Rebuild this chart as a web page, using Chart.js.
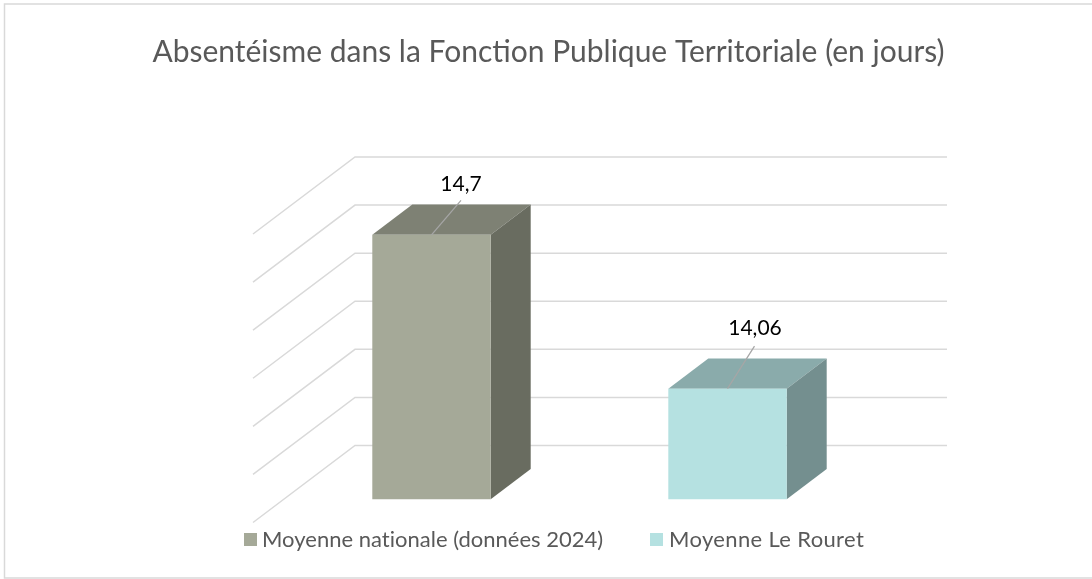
<!DOCTYPE html>
<html><head><meta charset="utf-8">
<style>html,body{margin:0;padding:0;background:#fff}canvas{display:block}</style>
<script src="https://cdn.jsdelivr.net/npm/chart.js@4"></script>
</head><body>
<canvas id="c" width="1092" height="579"></canvas>
<script>
const categories = ["Moyenne nationale (données 2024)", "Moyenne Le Rouret"];
const values = [14.7, 14.06];
const valueLabels = ["14,7", "14,06"];
const titleText = "Absentéisme dans la Fonction Publique Territoriale (en jours)";
const frontColors = ["#A5A998", "#B5E1E1"];
const topColors = ["#7E8174", "#8AABAB"];
const sideColors = ["#696C60", "#748F8F"];

const FONT = "Lato, 'Open Sans', sans-serif";
const WALL = {dx: 102, dy: -77};
const BAR_SHIFT = {dx: 30.5, dy: -23.2};
const BAR_DEPTH = {dx: 40, dy: -30.3};
const LEADER_TOP = [{dx: 29.5, dy: -34.5}, {dx: 27, dy: -42.5}];
const LABEL_POS = [{dx: 29.5, dy: -51}, {dx: 27.5, dy: -60}];
const LEGEND = {swatchX: [244, 650], textX: [262, 669], swatchY: 533, swatchSize: 13, baseline: 547, size: 22, spacing: ["0.01px", "0.35px"]};

const scene3d = {
  id: "scene3d",
  beforeDraw(chart) {
    const {ctx, width} = chart;
    ctx.save();
    ctx.strokeStyle = "#D9D9D9";
    ctx.lineWidth = 1.5;
    ctx.strokeRect(4.5, 4, width, 574);
    ctx.restore();
  },
  beforeDatasetsDraw(chart) {
    const {ctx, scales: {y}, chartArea: a} = chart;
    ctx.save();
    ctx.strokeStyle = "#D9D9D9";
    ctx.lineWidth = 1.5;
    y.ticks.forEach(t => {
      const py = y.getPixelForValue(t.value);
      ctx.beginPath();
      ctx.moveTo(a.left, py);
      ctx.lineTo(a.left + WALL.dx, py + WALL.dy);
      ctx.lineTo(a.right + WALL.dx, py + WALL.dy);
      ctx.stroke();
    });
    ctx.restore();
  },
  beforeDatasetDraw(chart, args) {
    const {ctx} = chart;
    const poly = (pts, color) => {
      ctx.fillStyle = color;
      ctx.beginPath();
      pts.forEach((p, i) => i ? ctx.lineTo(p[0], p[1]) : ctx.moveTo(p[0], p[1]));
      ctx.closePath();
      ctx.fill();
    };
    ctx.save();
    ctx.translate(BAR_SHIFT.dx, BAR_SHIFT.dy);
    args.meta.data.forEach((bar, i) => {
      const l = bar.x - bar.width / 2, r = bar.x + bar.width / 2, t = bar.y, b = bar.base;
      const d = BAR_DEPTH;
      poly([[l, t], [r, t], [r + d.dx, t + d.dy], [l + d.dx, t + d.dy]], topColors[i]);
      poly([[r, t], [r + d.dx, t + d.dy], [r + d.dx, b + d.dy], [r, b]], sideColors[i]);
    });
  },
  afterDatasetDraw(chart, args) {
    const {ctx} = chart;
    ctx.restore();
    ctx.save();
    args.meta.data.forEach((bar, i) => {
      const cx = bar.x + BAR_SHIFT.dx, ty = bar.y + BAR_SHIFT.dy;
      ctx.strokeStyle = "#A6A6A6";
      ctx.lineWidth = 1.25;
      ctx.beginPath();
      ctx.moveTo(cx, ty);
      ctx.lineTo(cx + LEADER_TOP[i].dx, ty + LEADER_TOP[i].dy);
      ctx.stroke();
      ctx.fillStyle = "#000";
      ctx.font = "21px " + FONT;
      ctx.textAlign = "center";
      ctx.textBaseline = "middle";
      ctx.fillText(valueLabels[i], cx + LABEL_POS[i].dx, ty + LABEL_POS[i].dy);
    });
    ctx.restore();
  },
  afterDraw(chart) {
    const {ctx} = chart;
    ctx.save();
    ctx.font = LEGEND.size + "px " + FONT;
    ctx.textAlign = "left";
    ctx.textBaseline = "alphabetic";
    categories.forEach((name, i) => {
      ctx.fillStyle = frontColors[i];
      ctx.fillRect(LEGEND.swatchX[i], LEGEND.swatchY, LEGEND.swatchSize, LEGEND.swatchSize);
      ctx.fillStyle = "#595959";
      ctx.letterSpacing = LEGEND.spacing[i];
      ctx.fillText(name, LEGEND.textX[i], LEGEND.baseline);
    });
    ctx.restore();
  }
};

new Chart(document.getElementById("c"), {
  type: "bar",
  plugins: [scene3d],
  data: {
    labels: categories,
    datasets: [{
      data: values,
      base: 13.6,
      backgroundColor: frontColors,
      borderWidth: 0,
      barPercentage: 0.4,
      categoryPercentage: 1,
      clip: false
    }]
  },
  options: {
    responsive: false,
    animation: false,
    layout: {padding: {left: 5, right: 0, top: 34, bottom: 56.5}},
    scales: {
      x: {display: false},
      y: {
        min: 13.6, max: 14.8,
        ticks: {stepSize: 0.2, display: false},
        grid: {display: false}, border: {display: false},
        afterFit(s) { s.width = 248; }
      },
      gutter: {
        axis: "y", position: "right", min: 13.6, max: 14.8,
        ticks: {display: false},
        grid: {display: false}, border: {display: false},
        afterFit(s) { s.width = 247; }
      }
    },
    plugins: {
      legend: {display: false},
      tooltip: {enabled: false},
      title: {
        display: true,
        text: titleText,
        color: "#595959",
        font: {family: FONT, size: 30, weight: "normal", lineHeight: 1.2},
        padding: {top: 0, bottom: 164}
      }
    }
  }
});
</script>
</body></html>
